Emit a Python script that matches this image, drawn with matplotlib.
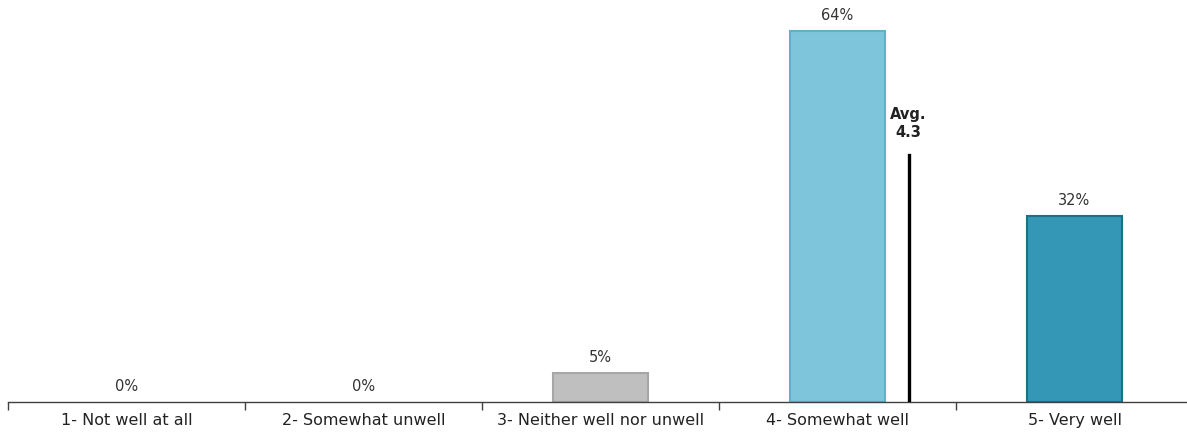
import matplotlib.pyplot as plt

categories = ["1- Not well at all", "2- Somewhat unwell", "3- Neither well nor unwell",
              "4- Somewhat well", "5- Very well"]
shares = [0, 0, 5, 64, 32]
avg_score = 4.3
avg_line_top = 42.6

fill_colors = ["#BFBFBF", "#BFBFBF", "#BFBFBF", "#7EC4DA", "#3497B5"]
edge_colors = ["#A6A6A6", "#A6A6A6", "#A6A6A6", "#62AFC8", "#1F6F89"]

plt.rcParams['font.family'] = ['DejaVu Sans']

fig = plt.figure(figsize=(11.87, 4.34), dpi=100)
ax = fig.add_axes([8 / 1187, 32 / 434, 1185 / 1187, 402 / 434])

x = list(range(len(categories)))
# empty categories get no outline, otherwise a stray stroke shows on the axis
widths = [1.5 if v > 0 else 0 for v in shares]
ax.bar(x, shares, width=0.4, color=fill_colors, edgecolor=edge_colors, linewidth=widths, zorder=2)

for xi, v in zip(x, shares):
    ax.text(xi, v + 1.4, f"{v}%", ha='center', va='bottom', fontsize=10.5, color='#333333')

# average marker sits on the 1-5 scale, category 1 is at position 0
avg_x = avg_score - 1
ax.plot([avg_x, avg_x], [0, avg_line_top], color='black', linewidth=2.4, zorder=3)
ax.text(avg_x, avg_line_top + 2.5, f"Avg.\n{avg_score}", ha='center', va='bottom',
        fontsize=10.5, fontweight='bold', color='#222222', linespacing=1.3)

ax.set_xlim(-0.5, len(categories) - 0.5)
ax.set_ylim(0, 402 / 5.8)

ax.set_xticks(x)
ax.set_xticklabels(categories, fontsize=11.5, color='#222222')
ax.set_xticks([i - 0.5 for i in x], minor=True)
ax.tick_params(axis='x', which='major', length=0, pad=8)
ax.tick_params(axis='x', which='minor', length=6, width=1, color='#404040', direction='out')
ax.set_yticks([])

for side in ['top', 'right', 'left']:
    ax.spines[side].set_visible(False)
ax.spines['bottom'].set_color('#404040')
ax.spines['bottom'].set_linewidth(1)

fig.savefig("out.png", dpi=100)
